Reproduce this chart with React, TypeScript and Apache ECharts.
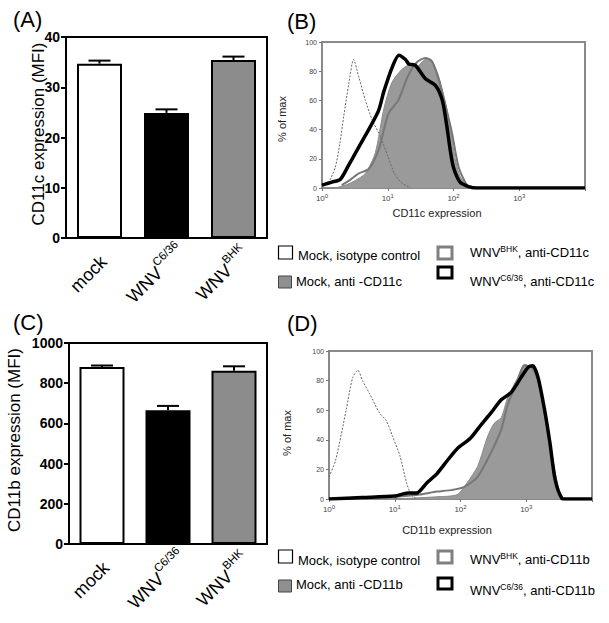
import React, { useEffect, useRef } from 'react';
import * as echarts from 'echarts';

const FONT = '"Liberation Sans", Arial, Helvetica, sans-serif';

// ---- bar panels (A, C) ----
const catBase = ['mock', 'WNV', 'WNV'];
const catSup = ['', 'C6/36', 'BHK'];
const barColors = ['#ffffff', '#000000', '#8c8c8c'];
const cd11cMean = [34.7, 24.9, 35.4];
const cd11cErr = [0.6, 0.7, 0.7];
const cd11bMean = [880, 665, 862];
const cd11bErr = [8, 22, 22];
const cd11cTicks = { min: 0, max: 40, interval: 10 };
const cd11bTicks = { min: 0, max: 1000, interval: 200 };

// ---- histogram panels (B, D): x in decades (log10), y in % of max ----
const decadeTicks = { min: 0, max: 4, interval: 1 };
const isoB = [[0, 1], [0.1, 4], [0.2, 14], [0.27, 30], [0.33, 49], [0.41, 72], [0.48, 88], [0.56, 76], [0.66, 60], [0.76, 47], [0.89, 35], [1.0, 22], [1.1, 10], [1.2, 4], [1.35, 0]];
const mockB = [[0.2, 0], [0.36, 2], [0.5, 5], [0.66, 10], [0.81, 24], [0.94, 54], [1.06, 72], [1.21, 81], [1.36, 85], [1.44, 83], [1.57, 88], [1.67, 87], [1.77, 77], [1.87, 60], [1.95, 42], [2.02, 21], [2.1, 8], [2.22, 1], [2.3, 0]];
const bhkB = [[0.3, 2], [0.41, 5], [0.56, 10], [0.71, 13], [0.86, 26], [1.01, 51], [1.16, 60], [1.31, 77], [1.44, 86], [1.57, 89], [1.67, 87], [1.77, 75], [1.87, 58], [1.98, 37], [2.08, 14], [2.22, 1], [2.32, 0]];
const c636B = [[0, 2], [0.15, 4], [0.28, 6], [0.41, 16], [0.51, 24], [0.66, 36], [0.71, 40], [0.86, 53], [0.94, 66], [1.07, 83], [1.17, 91], [1.27, 88], [1.32, 85], [1.42, 84], [1.57, 75], [1.73, 70], [1.83, 60], [1.9, 42], [1.95, 26], [2.0, 14], [2.1, 4], [2.23, 1], [2.35, 0], [4, 0]];

const isoD = [[0, 15], [0.1, 26], [0.26, 60], [0.36, 82], [0.44, 87], [0.51, 80], [0.62, 71], [0.77, 58], [0.87, 53], [0.97, 42], [1.08, 29], [1.18, 11], [1.26, 2], [1.35, 0]];
const mockD = [[1.0, 0], [1.64, 1.5], [1.95, 3], [2.1, 11], [2.26, 22], [2.41, 42], [2.51, 51], [2.62, 55], [2.72, 69], [2.87, 82], [2.97, 91], [3.08, 89], [3.18, 82], [3.28, 60], [3.38, 33], [3.46, 11], [3.54, 0]];
const bhkD = [[1.0, 0], [1.03, 1.5], [1.38, 3], [1.64, 5], [1.85, 6], [2.05, 8], [2.26, 15], [2.46, 31], [2.62, 47], [2.72, 64], [2.87, 80], [2.97, 90], [3.08, 89], [3.18, 80], [3.28, 58], [3.38, 31], [3.49, 6], [3.56, 0]];
const c636D = [[0, 0], [0.5, 1], [1.0, 2], [1.2, 4], [1.33, 4], [1.49, 11], [1.64, 17], [1.8, 26], [1.95, 34], [2.15, 41], [2.31, 50], [2.46, 58], [2.62, 67], [2.77, 72], [2.92, 82], [3.03, 89], [3.1, 90], [3.18, 82], [3.28, 60], [3.36, 38], [3.44, 13], [3.54, 0.5], [3.6, 0], [4, 0]];

const legendLabelsB = ['Mock, isotype control', 'Mock, anti -CD11c', ', anti-CD11c', ', anti-CD11c'];
const legendLabelsD = ['Mock, isotype control', 'Mock, anti -CD11b', ', anti-CD11b', ', anti-CD11b'];

const CAT_FS = 18;
const SUP_FS = 11.5;

function measure(text: string, size: number) {
  const c = document.createElement('canvas').getContext('2d');
  if (!c) return text.length * size * 0.55;
  c.font = `${size}px ${FONT}`;
  return c.measureText(text).width;
}

function barXAxis(gi: number) {
  return {
    type: 'category', gridIndex: gi, data: catBase.map((_, i) => String(i)),
    axisLine: { lineStyle: { color: '#000', width: 2 } },
    axisTick: { show: false },
    axisLabel: { show: false },
  };
}

function barYAxis(gi: number, t: any) {
  return {
    type: 'value', gridIndex: gi, ...t,
    axisLine: { show: true, lineStyle: { color: '#000', width: 2 } },
    axisTick: { show: true, length: 5, lineStyle: { color: '#000', width: 2 } },
    axisLabel: { fontSize: 14, fontWeight: 'bold', color: '#000', fontFamily: FONT, margin: 6, formatter: (v: number) => String(v) },
    splitLine: { show: false },
  };
}

function barSeries(gi: number, mean: number[]) {
  return {
    type: 'bar', xAxisIndex: gi, yAxisIndex: gi, barWidth: 45,
    data: mean.map((m, i) => ({ value: m, itemStyle: { color: barColors[i], borderColor: '#000', borderWidth: 2 } })),
  };
}

function errSeries(gi: number, mean: number[], err: number[]) {
  return {
    type: 'custom', xAxisIndex: gi, yAxisIndex: gi, z: 5,
    data: mean.map((m, i) => [i, m, err[i]]),
    encode: { x: 0, y: 1 },
    renderItem: (params: any, api: any) => {
      const i = api.value(0), m = api.value(1), e = api.value(2);
      const p0 = api.coord([i, m]);
      const p1 = api.coord([i, m + e]);
      return {
        type: 'group', children: [
          { type: 'line', shape: { x1: p0[0], y1: p0[1], x2: p1[0], y2: p1[1] }, style: { stroke: '#000', lineWidth: 2 } },
          { type: 'line', shape: { x1: p1[0] - 11, y1: p1[1], x2: p1[0] + 11, y2: p1[1] }, style: { stroke: '#000', lineWidth: 2 } },
        ],
      };
    },
  };
}

function histXAxis(gi: number) {
  return {
    type: 'value', gridIndex: gi, ...decadeTicks,
    axisLine: { show: false }, splitLine: { show: false },
    axisTick: { show: true, length: 3, lineStyle: { color: '#777', width: 1 } },
    axisLabel: {
      margin: 5, color: '#444',
      formatter: (v: number) => (v >= 4 ? '' : `{b|10}{e|${v}}`),
      rich: {
        b: { fontSize: 8, fontFamily: FONT, color: '#444', lineHeight: 10 },
        e: { fontSize: 6, fontFamily: FONT, color: '#444', verticalAlign: 'top', lineHeight: 7 },
      },
    },
  };
}

function histYAxis(gi: number) {
  return {
    type: 'value', gridIndex: gi, min: 0, max: 100, interval: 20,
    axisLine: { show: false }, splitLine: { show: false },
    axisTick: { show: true, length: 3, lineStyle: { color: '#777', width: 1 } },
    axisLabel: { fontSize: 7, color: '#444', fontFamily: FONT, margin: 5 },
  };
}

function histSeries(gi: number, iso: number[][], mock: number[][], bhk: number[][], c636: number[][]) {
  const base = { type: 'line', xAxisIndex: gi, yAxisIndex: gi, showSymbol: false, symbol: 'none', smooth: 0.25 };
  return [
    { ...base, data: iso, lineStyle: { color: '#666', width: 1, type: [2, 1.5] } },
    { ...base, data: mock, lineStyle: { color: '#8a8a8a', width: 1 }, areaStyle: { color: '#9a9a9a', opacity: 1 } },
    { ...base, data: bhk, lineStyle: { color: '#777', width: 2 } },
    { ...base, data: c636, lineStyle: { color: '#000', width: 3.5 } },
  ];
}

function txt(x: number, y: number, text: string, fontSize: number, extra: any = {}) {
  return {
    type: 'text', x, y,
    style: { text, fontSize, fontFamily: FONT, fill: '#000', textAlign: 'left', textVerticalAlign: 'middle', ...extra },
  };
}

function legend(y1: number, y2: number, labels: string[], txtY: number[]) {
  const richSty = {
    n: { fontSize: 13, fontFamily: FONT, fill: '#000', lineHeight: 16 },
    s: { fontSize: 8.5, fontFamily: FONT, fill: '#000', verticalAlign: 'top', lineHeight: 10 },
  };
  return [
    { type: 'rect', shape: { x: 278.5, y: y1 - 7, width: 14, height: 13 }, style: { fill: '#fff', stroke: '#000', lineWidth: 1.2 } },
    txt(298, txtY[0], labels[0], 13),
    { type: 'rect', shape: { x: 278.5, y: y2 - 6, width: 13, height: 12 }, style: { fill: '#8f8f8f', stroke: '#444', lineWidth: 1 } },
    txt(296, txtY[1], labels[1], 13),
    { type: 'rect', shape: { x: 438, y: y1 - 6, width: 14, height: 12 }, style: { fill: '#fff', stroke: '#808080', lineWidth: 3 } },
    { type: 'text', x: 470, y: txtY[2], style: { text: `{n|WNV}{s|BHK}{n|${labels[2]}}`, rich: richSty, fontFamily: FONT, textVerticalAlign: 'middle' } },
    { type: 'rect', shape: { x: 438, y: txtY[3] - 14, width: 14, height: 11 }, style: { fill: '#fff', stroke: '#000', lineWidth: 3 } },
    { type: 'text', x: 470, y: txtY[4], style: { text: `{n|WNV}{s|C6/36}{n|${labels[3]}}`, rich: richSty, fontFamily: FONT, textVerticalAlign: 'middle' } },
  ];
}

// rotated category labels (45°), centred a little below-left of each category
function categoryLabels(chart: any, gi: number) {
  const axisY = chart.convertToPixel({ yAxisIndex: gi }, 0);
  return catBase.map((b, i) => {
    const cx = chart.convertToPixel({ xAxisIndex: gi }, i);
    const wb = measure(b, CAT_FS);
    const ws = catSup[i] ? measure(catSup[i], SUP_FS) : 0;
    const W = wb + ws;
    const children: any[] = [
      { type: 'text', x: -W / 2, y: 0, style: { text: b, fontSize: CAT_FS, fontFamily: FONT, fill: '#000', textAlign: 'left', textVerticalAlign: 'middle' } },
    ];
    if (catSup[i]) {
      children.push({ type: 'text', x: -W / 2 + wb + 0.5, y: -8, style: { text: catSup[i], fontSize: SUP_FS, fontFamily: FONT, fill: '#000', textAlign: 'left', textVerticalAlign: 'middle' } });
    }
    return { type: 'group', x: cx - 11, y: axisY + 36, rotation: Math.PI / 4, children };
  });
}

export default function App() {
  const ref = useRef<HTMLDivElement>(null);
  useEffect(() => {
    if (!ref.current) return;
    const chart = echarts.init(ref.current, undefined, { renderer: 'svg' });
    const baseGraphics: any[] = [
      txt(13, 19, '(A)', 22),
      txt(287, 21, '(B)', 22),
      txt(13, 322, '(C)', 22),
      txt(287, 323, '(D)', 22),
      { type: 'text', x: 38, y: 134, rotation: Math.PI / 2, style: { text: 'CD11c expression (MFI)', fontSize: 17, fontFamily: FONT, fill: '#000', textAlign: 'center', textVerticalAlign: 'middle' } },
      { type: 'text', x: 14, y: 440, rotation: Math.PI / 2, style: { text: 'CD11b expression (MFI)', fontSize: 17, fontFamily: FONT, fill: '#000', textAlign: 'center', textVerticalAlign: 'middle' } },
      { type: 'text', x: 282, y: 119, rotation: Math.PI / 2, style: { text: '% of max', fontSize: 11, fontFamily: FONT, fill: '#222', textAlign: 'center', textVerticalAlign: 'middle' } },
      { type: 'text', x: 287, y: 433, rotation: Math.PI / 2, style: { text: '% of max', fontSize: 11, fontFamily: FONT, fill: '#222', textAlign: 'center', textVerticalAlign: 'middle' } },
      txt(437, 213, 'CD11c expression', 11, { textAlign: 'center', fill: '#222' }),
      txt(447, 530, 'CD11b expression', 11, { textAlign: 'center', fill: '#222' }),
      ...legend(253, 282, legendLabelsB, [255, 281, 252, 281, 281]),
      ...legend(557, 586, legendLabelsD, [560, 584, 559, 592, 590]),
    ];
    const option: any = {
      animation: false,
      backgroundColor: '#fff',
      textStyle: { fontFamily: FONT },
      grid: [
        { left: 66, top: 37, width: 201, height: 201, show: true, borderColor: '#000', borderWidth: 2, backgroundColor: 'transparent' },
        { left: 69, top: 343, width: 198, height: 201, show: true, borderColor: '#000', borderWidth: 2, backgroundColor: 'transparent' },
        { left: 322, top: 42, width: 263, height: 146, show: true, borderColor: '#8a8a8a', borderWidth: 2, backgroundColor: 'transparent' },
        { left: 329, top: 351, width: 263, height: 148, show: true, borderColor: '#8a8a8a', borderWidth: 2, backgroundColor: 'transparent' },
      ],
      xAxis: [barXAxis(0), barXAxis(1), histXAxis(2), histXAxis(3)],
      yAxis: [barYAxis(0, cd11cTicks), barYAxis(1, cd11bTicks), histYAxis(2), histYAxis(3)],
      series: [
        barSeries(0, cd11cMean), errSeries(0, cd11cMean, cd11cErr),
        barSeries(1, cd11bMean), errSeries(1, cd11bMean, cd11bErr),
        ...histSeries(2, isoB, mockB, bhkB, c636B),
        ...histSeries(3, isoD, mockD, bhkD, c636D),
      ],
      graphic: baseGraphics,
    };
    chart.setOption(option);
    chart.setOption({ graphic: [...baseGraphics, ...categoryLabels(chart, 0), ...categoryLabels(chart, 1)] });
    return () => chart.dispose();
  }, []);
  return <div ref={ref} style={{ position: 'fixed', left: 0, top: 0, width: 609, height: 623 }} />;
}
